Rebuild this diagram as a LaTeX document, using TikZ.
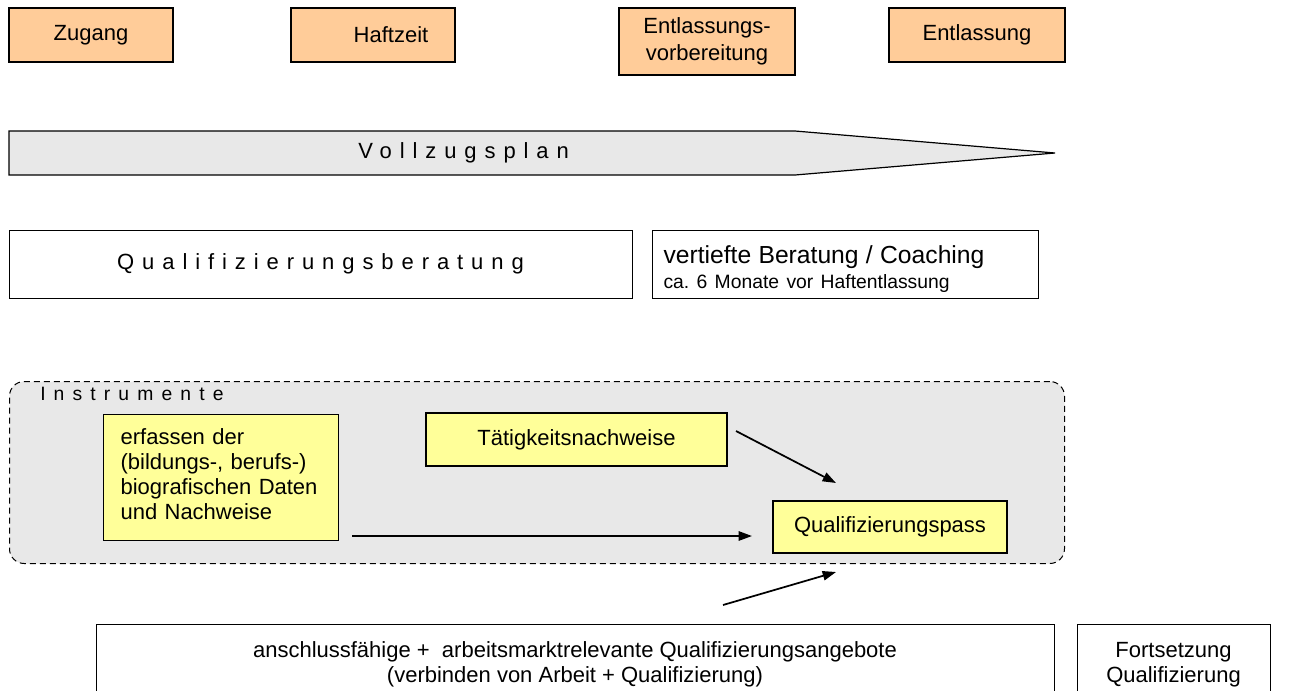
\documentclass[tikz,border=0pt]{standalone}
\usepackage{fontspec}
\setmainfont{Liberation Sans}
\newfontfamily\sperrfont[LetterSpace=36]{Liberation Sans}
\newfontfamily\sperrfontb[LetterSpace=42]{Liberation Sans}
\usepackage{tikz}
\usetikzlibrary{positioning,arrows.meta}
\definecolor{phasefill}{HTML}{FFCC99}
\definecolor{instrfill}{HTML}{FFFF99}
\definecolor{greyfill}{HTML}{E8E8E8}
\frenchspacing

\begin{document}
\begin{tikzpicture}[
    x=0.75pt, y=-0.75pt,
    phase/.style={rectangle, draw=black, fill=phasefill, line width=0.9pt, minimum width=132pt, minimum height=40.5pt, inner sep=0pt, align=center, font=\fontsize{16.5}{20}\selectfont},
    plainbox/.style={rectangle, draw=black, line width=0.75pt, inner sep=0pt, font=\fontsize{16.5}{18.75}\selectfont},
    instr/.style={rectangle, draw=black, fill=instrfill, line width=0.9pt, inner sep=0pt, font=\fontsize{16.5}{18.75}\selectfont},
    instrbg/.style={rectangle, draw=black, fill=greyfill, line width=0.75pt, dash pattern=on 4.5pt off 3pt, rounded corners=11pt, inner sep=0pt},
    arrow/.style={-{Triangle[length=10pt,width=7pt]}, line width=1.3pt}
]
    \useasboundingbox (0,0) rectangle (1289,690);

    % Phasen
    \node[phase, minimum width=123pt] (zugang) at (91,35) {Zugang};
    \node[phase, minimum width=123pt] (haftzeit) at (373,35) {\hspace*{27pt}Haftzeit};
    \node[phase, minimum height=50.25pt] (vorbereitung) at (707,41.5) {Entlassungs-\\vorbereitung};
    \node[phase] (entlassung) at (977,35) {Entlassung};

    % Vollzugsplan
    \draw[fill=greyfill, line width=0.9pt] (9,131) -- (795,131) -- (1055,153) -- (795,175) -- (9,175) -- cycle;
    \node[anchor=west, inner sep=0pt, font=\fontsize{16.5}{18}\sperrfont] (vollzugsplan) at (358,153) {Vollzugsplan};

    % Beratung
    \node[plainbox, minimum width=467.25pt, minimum height=51pt, font=\fontsize{16.5}{18}\sperrfont] (beratung) at (320.5,264) {Qualifizierungsberatung};
    \node[plainbox, anchor=north west, minimum width=289.5pt, minimum height=51pt, inner xsep=8.25pt, text width=273pt, align=left] (coaching) at (652,230)
        {{\fontsize{18.5}{22}\selectfont\rule{0pt}{20pt}vertiefte Beratung / Coaching}\\{\fontsize{14.5}{17.5}\selectfont ca. 6 Monate vor Haftentlassung}};

    % Instrumente
    \node[instrbg, anchor=north west, minimum width=791.25pt, minimum height=136.5pt] (instrumente) at (9,381) {};
    \node[anchor=base west, inner sep=0pt, font=\fontsize{14.5}{16}\sperrfontb] (instrlabel) at (40,400) {Instrumente};
    \node[instr, anchor=north west, minimum width=176.25pt, minimum height=94.5pt, inner xsep=12.75pt, text width=150.75pt, align=left] (erfassen) at (103,414)
        {erfassen der\\(bildungs-, berufs-)\\biografischen Daten\\und Nachweise\rule[-5pt]{0pt}{5pt}};
    \node[instr, minimum width=225.75pt, minimum height=39.75pt] (taetigkeit) at (576.5,439.5) {Tätigkeitsnachweise};
    \node[instr, minimum width=175.5pt, minimum height=39pt] (pass) at (890,527) {Qualifizierungspass};

    % Angebote
    \node[plainbox, anchor=north, minimum width=718.5pt, minimum height=60pt, align=center] (angebote) at (575,624)
        {anschlussfähige +\ \ arbeitsmarktrelevante Qualifizierungsangebote\\(verbinden von Arbeit + Qualifizierung)};
    \node[plainbox, anchor=north, minimum width=144.75pt, minimum height=60pt, align=center] (fortsetzung) at (1173.5,624)
        {Fortsetzung\\Qualifizierung};

    % Pfeile
    \coordinate (taetaus) at (736,431);
    \coordinate (passein) at (836,483);
    \coordinate (erfassaus) at (352,536);
    \coordinate (passlinks) at (752,536);
    \coordinate (angebotaus) at (723,605);
    \coordinate (passunten) at (836,572);
    \draw[arrow] (taetaus) -- (passein);
    \draw[arrow] (erfassaus) -- (passlinks);
    \draw[arrow] (angebotaus) -- (passunten);
\end{tikzpicture}
\end{document}
